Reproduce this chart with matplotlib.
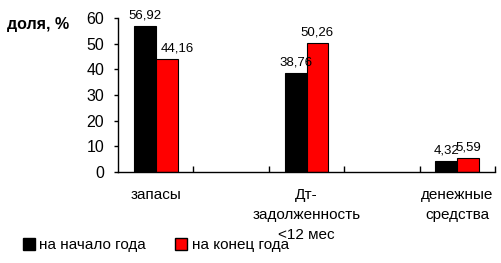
import matplotlib
matplotlib.use("Agg")
import matplotlib.pyplot as plt
from matplotlib.patches import Patch

plt.rcParams['font.family'] = ['Liberation Sans', 'DejaVu Sans']

categories = ["запасы", "", "Дт-\nзадолженность\n<12 мес", "", "денежные\nсредства"]
series_names = ["на начало года", "на конец года"]
start_vals = [56.92, None, 38.76, None, 4.32]
end_vals = [44.16, None, 50.26, None, 5.59]
start_labels = ["56,92", "", "38,76", "", "4,32"]
end_labels = ["44,16", "", "50,26", "", "5,59"]
yticks = [0, 10, 20, 30, 40, 50, 60]
colors = ["#000000", "#ff0000"]

# label x shifts in points (layout only)
end_label_dx = [8, 0, 0, 0, 0]

fig = plt.figure(figsize=(5.01, 2.63), dpi=100)
ax = fig.add_axes([118/501, (263-172)/263, (495-118)/501, (172-18)/263])

w = 0.29
for i, (s, e) in enumerate(zip(start_vals, end_vals)):
    if s is None:
        continue
    ax.bar(i - w/2, s, width=w, color=colors[0], edgecolor="black", linewidth=0.8)
    ax.bar(i + w/2, e, width=w, color=colors[1], edgecolor="black", linewidth=0.8)
    ax.annotate(start_labels[i], (i - w/2, s), xytext=(0, 3), textcoords="offset points",
                ha="center", va="bottom", fontsize=9.5)
    ax.annotate(end_labels[i], (i + w/2, e), xytext=(end_label_dx[i], 3), textcoords="offset points",
                ha="center", va="bottom", fontsize=9.5)

ax.set_xlim(-0.5, 4.5)
ax.set_ylim(0, 60)
ax.set_yticks(yticks)
ax.set_yticklabels([str(t) for t in yticks], fontsize=11.5)
ax.set_xticks([0.5, 1.5, 2.5, 3.5, 4.5])
ax.set_xticklabels([])
ax.tick_params(axis="x", direction="in", length=4, width=1)
ax.tick_params(axis="y", direction="out", length=3, width=1, pad=7)
for sp in ["top", "right"]:
    ax.spines[sp].set_visible(False)
for sp in ["left", "bottom"]:
    ax.spines[sp].set_linewidth(1)

for i, c in enumerate(categories):
    if c:
        ax.text(i, -0.105, c, transform=ax.get_xaxis_transform(), ha="center", va="top",
                fontsize=11, linespacing=1.55)

fig.text(7/501, 1 - 24/263, "доля, %", fontsize=11.5, fontweight="bold", va="center", ha="left")

handles = [Patch(facecolor=colors[0], edgecolor="black"), Patch(facecolor=colors[1], edgecolor="black")]
fig.legend(handles, series_names, loc="center left", bbox_to_anchor=(15/501, 1 - 245/263),
           ncol=2, frameon=False, fontsize=11, handlelength=0.8, handleheight=0.8,
           handletextpad=0.3, columnspacing=1.9, borderpad=0)

fig.savefig("out.png", dpi=100)
